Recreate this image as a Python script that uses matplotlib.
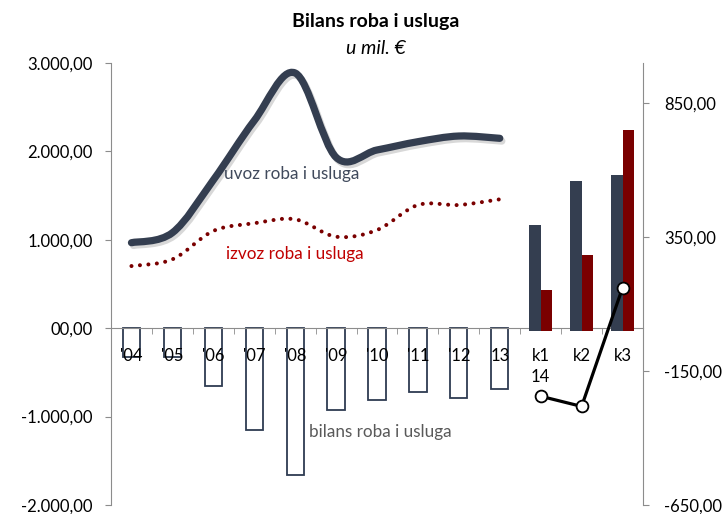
import matplotlib
matplotlib.use("Agg")
import matplotlib.pyplot as plt
import numpy as np
from matplotlib.path import Path
from matplotlib.patches import PathPatch
import matplotlib.patheffects as pe

plt.rcParams['font.family'] = ['Lato', 'DejaVu Sans']

# ---------------- data ----------------
categories = ["'04", "'05", "'06", "'07", "'08", "'09", "'10", "'11", "'12", "13", "k1", "k2", "k3"]
years_n = 10
uvoz = [967, 1080, 1676, 2348, 2887, 1933, 2016, 2110, 2174, 2148]
izvoz = [703, 779, 1100, 1187, 1232, 1035, 1111, 1394, 1394, 1458]
bilans = [-325, -325, -652, -1154, -1655, -920, -807, -720, -784, -690]
q_uvoz = [394, 560, 583]
q_izvoz = [154, 284, 749]
q_bilans = [-244, -282, 161]

left_ticks = [-2000, -1000, 0, 1000, 2000, 3000]
left_labels = ["-2.000,00", "-1.000,00", "00,00", "1.000,00", "2.000,00", "3.000,00"]
right_ticks = [-650, -150, 350, 850]
right_labels = ["-650,00", "-150,00", "350,00", "850,00"]

C_UV = '#343e50'
C_IZ = '#7a0000'
C_AX = '#8c8c8c'
FS = 12


def smooth_path(xs, ys):
    xs = np.asarray(xs, float)
    ys = np.asarray(ys, float)
    P = np.column_stack([xs, ys])
    n = len(P)
    verts = [P[0]]
    codes = [Path.MOVETO]
    for i in range(n - 1):
        p0 = P[i - 1] if i > 0 else P[i]
        p1 = P[i]
        p2 = P[i + 1]
        p3 = P[i + 2] if i + 2 < n else P[i + 1]
        c1 = p1 + (p2 - p0) / 6.0
        c2 = p2 - (p3 - p1) / 6.0
        verts += [c1, c2, p2]
        codes += [Path.CURVE4] * 3
    return Path(verts, codes)


fig = plt.figure(figsize=(7.22, 5.14), dpi=100)
ax = fig.add_axes([111 / 722, 1 - 505 / 514, 532 / 722, 442 / 514])
ax2 = ax.twinx()
ax.set_axisbelow(False)

x_all = np.arange(len(categories))
xy = x_all[:years_n]

# bilans bars (left axis)
ax.bar(xy, bilans, width=0.42, facecolor='white', edgecolor='#2e3b52', linewidth=1.3, zorder=1)

# uvoz smooth line
p_uv = PathPatch(smooth_path(xy, uvoz), facecolor='none', edgecolor=C_UV, linewidth=5.2,
                 capstyle='round', joinstyle='round', zorder=3)
p_uv.set_path_effects([pe.SimpleLineShadow(offset=(1.5, -2), shadow_color='gray', alpha=0.3),
                       pe.Normal()])
ax.add_patch(p_uv)

# izvoz dotted smooth line
p_iz = PathPatch(smooth_path(xy, izvoz), facecolor='none', edgecolor=C_IZ, linewidth=2.9,
                 linestyle=(0, (0.01, 2.1)), capstyle='round', zorder=3)
ax.add_patch(p_iz)

ax.set_xlim(-0.5, len(categories) - 0.5)
ax.set_ylim(-2000, 3000)
ax.set_yticks(left_ticks)
ax.set_yticklabels(left_labels)

# x axis at zero
ax.spines['top'].set_visible(False)
ax.spines['right'].set_visible(False)
ax.spines['bottom'].set_position(('data', 0))
ax.spines['bottom'].set_color(C_AX)
ax.spines['left'].set_color(C_AX)
ax.set_xticks(x_all)
ax.set_xticklabels(categories)
ax.set_xticks(np.arange(-0.5, len(categories), 1.0), minor=True)
ax.tick_params(axis='x', which='major', length=0, pad=14, labelsize=FS, colors='black')
ax.tick_params(axis='x', which='minor', length=4, direction='out', color=C_AX)
ax.tick_params(axis='y', length=4, color=C_AX, labelsize=FS, pad=9)

# right axis
ax2.set_ylim(-650, 1000)
ax2.set_yticks(right_ticks)
ax2.set_yticklabels(right_labels)
for s in ['top', 'left', 'bottom']:
    ax2.spines[s].set_visible(False)
ax2.spines['right'].set_color(C_AX)
ax2.tick_params(axis='y', length=4, color=C_AX, labelsize=FS, pad=11)

xq = x_all[years_n:]
bw = 0.285
ax2.bar(xq - bw / 2, q_uvoz, width=bw, color=C_UV, zorder=2)
ax2.bar(xq + bw / 2, q_izvoz, width=bw, color=C_IZ, zorder=2)
ax2.plot(xq, q_bilans, color='black', linewidth=2.3, marker='o', markersize=8.5,
         markerfacecolor='white', markeredgecolor='black', markeredgewidth=1.3, zorder=4)

# "14" group label under k1
ax2.annotate('14', xy=(xq[0], 0), xycoords=ax.transData, xytext=(0, -35),
             textcoords='offset points', ha='center', va='center', fontsize=FS, zorder=6)

# series labels
ax.text(3.92, 1740, 'uvoz roba i usluga', color='#404a5c', fontsize=12.3, ha='center', va='center', zorder=5)
ax.text(4.0, 835, 'izvoz roba i usluga', color='#c00000', fontsize=12.3, ha='center', va='center', zorder=5)
ax.text(6.08, -1174, 'bilans roba i usluga', color='#595959', fontsize=12.3, ha='center', va='center', zorder=5)

# titles
fig.text(376 / 722, 1 - 21 / 514, 'Bilans roba i usluga', ha='center', va='center',
         fontsize=14, fontweight='bold')
fig.text(376 / 722, 1 - 48 / 514, 'u mil. €', ha='center', va='center', fontsize=14, style='italic')

fig.savefig('out.png', dpi=100)
